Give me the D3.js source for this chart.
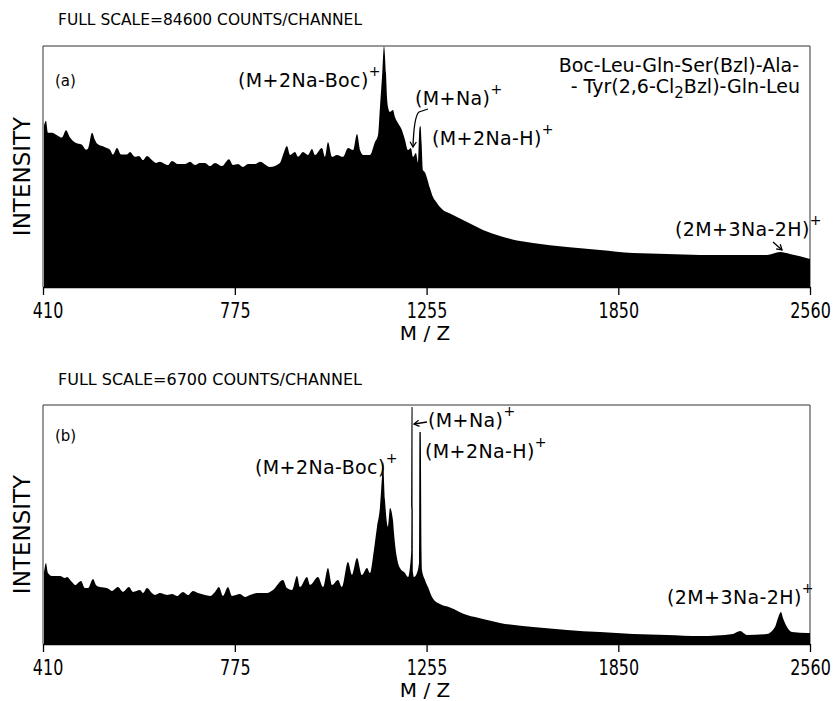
<!DOCTYPE html>
<html>
<head>
<meta charset="utf-8">
<script src="https://cdn.jsdelivr.net/npm/d3@7"></script>
<style>
  body { margin: 0; background: #fff; }
  svg { display: block; font-family: 'DejaVu Sans', sans-serif; }
</style>
</head>
<body>
<svg id="chart" width="836" height="701"></svg>
<script>
// m/z tick labels (the axis is linear in sqrt(m/z), like a TOF spectrum)
const mzTicks = [410, 775, 1255, 1850, 2560];

// panel (a): intensity in % of full scale (84600 counts/channel)
const mzA = [411.6, 414.8, 418.0, 424.5, 432.7, 441.0, 447.7, 454.4, 462.9, 474.8,
  481.8, 485.3, 492.3, 497.5, 501.1, 515.3, 524.4, 529.8, 537.1, 544.5,
  555.6, 561.2, 570.6, 578.2, 585.9, 593.5, 603.2, 611.0, 618.9, 624.8,
  634.7, 642.7, 654.8, 669.0, 679.3, 689.7, 700.1, 710.6, 721.2, 731.9,
  747.0, 762.2, 771.0, 782.0, 793.0, 804.2, 820.0, 831.4, 854.4, 877.6,
  884.7, 894.1, 901.3, 913.2, 920.4, 932.4, 944.5, 954.3, 961.6, 978.9,
  986.3, 993.8, 1003.8, 1016.4, 1031.6, 1044.3, 1057.2, 1067.5, 1075.3, 1083.1,
  1101.3, 1114.5, 1122.4, 1127.7, 1133.1, 1138.4, 1143.7, 1146.4, 1149.1, 1154.5,
  1162.5, 1167.9, 1176.1, 1186.9, 1195.2, 1203.4, 1211.6, 1217.1, 1225.4, 1231.0,
  1235.2, 1238.0, 1241.0, 1244.9, 1250.5, 1264.5, 1273.0, 1284.3, 1292.8, 1301.4,
  1321.5, 1370.8, 1418.1, 1469.2, 1521.2, 1571.0, 1679.4, 1788.2, 1900.3, 2019.4,
  2138.5, 2260.9, 2390.6, 2441.3, 2480.5, 2560];
const intA = [67, 69, 64, 64, 63, 62, 65, 62, 60, 59,
  57, 57.5, 64, 61, 59.5, 58, 57, 55, 57.7, 55,
  55, 56, 54, 54.4, 52.7, 54.4, 52.7, 51.5, 52, 51.5,
  50.6, 52.3, 51, 51, 52, 50.6, 51.5, 51.5, 50.2, 51.5,
  50.2, 53, 50.6, 51, 49.8, 51, 51, 52, 49.8, 51.5,
  54.8, 58.5, 54.8, 56, 54, 56, 54.8, 57.3, 54.8, 57.7,
  54, 60.2, 54, 54.8, 54, 57.7, 56.8, 63.5, 56.8, 54.8,
  54.8, 60.2, 63, 74.7, 87, 100, 88.8, 78.8, 74.7, 72.6,
  73.4, 70.5, 68, 65, 61, 56.8, 57.7, 54, 55.6, 51.5,
  66, 66.8, 60, 48.5, 47.5, 41, 37.3, 34.9, 33.2, 32,
  30.5, 27, 23.7, 21.2, 19.3, 18.3, 16.6, 15.4, 14.1, 13.7,
  13.3, 13.3, 13.3, 14.5, 13.7, 11.6];

// panel (b): intensity in % of full scale (6700 counts/channel)
const mzB = [411.6, 414.8, 418.0, 424.5, 437.7, 446.0, 449.3, 457.7, 462.9, 473.1,
  480.0, 485.3, 494.0, 499.3, 506.4, 518.9, 528.0, 538.9, 548.2, 559.4,
  566.9, 580.1, 585.9, 593.5, 603.2, 609.1, 618.9, 632.7, 642.7, 652.8,
  665.0, 675.2, 685.5, 696.0, 710.6, 721.2, 731.9, 740.5, 749.1, 760.0,
  768.7, 786.4, 797.6, 808.7, 824.6, 847.4, 861.3, 884.7, 894.1, 906.0,
  918.0, 925.2, 942.1, 949.4, 969.0, 981.4, 993.8, 1003.8, 1018.9, 1029.0,
  1044.3, 1054.6, 1067.5, 1080.4, 1093.5, 1101.3, 1109.2, 1119.8, 1127.7, 1133.1,
  1135.8, 1141.1, 1149.1, 1154.5, 1162.5, 1165.3, 1173.4, 1181.5, 1195.2, 1203.4,
  1208.9, 1212.5, 1213.3, 1216.0, 1217.0, 1219.9, 1228.2, 1233.8, 1235.0, 1238.6,
  1240.7, 1242.1, 1250.5, 1258.9, 1270.2, 1292.8, 1321.5, 1370.8, 1418.1, 1469.2,
  1571.0, 1679.4, 1788.2, 1900.3, 2019.4, 2138.5, 2260.9, 2287.4, 2313.9, 2390.6,
  2421.7, 2433.4, 2445.1, 2453.0, 2468.7, 2488.4, 2552.0, 2560];
const intB = [30, 33.9, 29.7, 28.5, 28.5, 27.6, 28, 25.9, 24.7, 26.4,
  23.4, 23.4, 27.2, 24.7, 23.8, 23.4, 22.2, 23.8, 21.8, 23.8,
  21.8, 22.6, 21.3, 23.4, 21.3, 20.5, 21.3, 20.5, 20.9, 20.1,
  21.8, 20.5, 22.2, 21.3, 20.5, 20.1, 21.8, 23.8, 20.1, 23.8,
  20.1, 20.9, 19.7, 20.5, 21.3, 21.3, 22.6, 26.8, 23.4, 22.6,
  28.5, 23.8, 28, 24.7, 28, 23.8, 31.8, 24.7, 26.8, 23.8,
  34.3, 28.9, 36, 28.9, 31.8, 29.7, 36.4, 49, 57.3, 70,
  76.2, 60.3, 49, 56.9, 51.9, 46.4, 36, 31.8, 29.7, 28,
  32.2, 40, 99.2, 99.2, 30, 28, 29.7, 34, 88.7, 88.7,
  40, 31, 26.8, 23.8, 19.7, 16.7, 15.3, 12.1, 10.5, 8.8,
  7.1, 5.9, 5.0, 4.2, 3.8, 3.3, 4.2, 5.4, 3.8, 4.2,
  7.1, 10.9, 13.4, 10.9, 7.1, 5.0, 4.6, 4.6];

const svg = d3.select('#chart');
const x = d3.scalePow().exponent(0.5).domain([410, 2560]).range([43, 810]);

function ion(g, px, py, text) {
  const t = g.append('text').attr('x', px).attr('y', py)
    .attr('font-size', 19).attr('letter-spacing', 0.4);
  t.append('tspan').text(text);
  t.append('tspan').attr('dy', -11).attr('font-size', 14).text('+');
}

function arrow(g, d, from, tip) {
  g.append('path').attr('d', d).attr('fill', 'none')
    .attr('stroke', '#000').attr('stroke-width', 1.3);
  const ang = Math.atan2(tip[1] - from[1], tip[0] - from[0]);
  const L = 6, a = 0.55;
  const p1 = [tip[0] - L * Math.cos(ang - a), tip[1] - L * Math.sin(ang - a)];
  const p2 = [tip[0] - L * Math.cos(ang + a), tip[1] - L * Math.sin(ang + a)];
  g.append('path').attr('d', `M${p1}L${tip}L${p2}`).attr('fill', 'none')
    .attr('stroke', '#000').attr('stroke-width', 1.3);
}

function panel(opts) {
  const g = svg.append('g');
  const y = d3.scaleLinear().domain([0, 100]).range([opts.base, opts.top]);
  const data = d3.zip(opts.mz, opts.val);

  g.append('text').attr('x', 58).attr('y', opts.titleY)
    .attr('font-size', 16).attr('textLength', 304).attr('lengthAdjust', 'spacingAndGlyphs')
    .text(opts.title);

  // frame
  g.append('path')
    .attr('d', `M43,${opts.base}V${opts.top}H810V${opts.base}`)
    .attr('fill', 'none').attr('stroke', '#333').attr('stroke-width', 1);

  const area = d3.area()
    .curve(d3.curveMonotoneX)
    .x(d => x(d[0]))
    .y0(opts.base)
    .y1(d => y(d[1]));
  g.append('path').datum(data).attr('d', area).attr('fill', '#000');

  const axis = d3.axisBottom(x).tickValues(mzTicks).tickSize(8).tickSizeOuter(0)
    .tickFormat(d3.format('d'));
  const ax = g.append('g').attr('transform', `translate(0,${opts.base})`).call(axis);
  ax.select('.domain').attr('stroke-width', 1.5);
  ax.selectAll('.tick line').attr('stroke-width', 1.3);
  // condensed digits: squeeze each label horizontally about its tick
  const sx = 0.76;
  ax.selectAll('.tick text')
    .attr('text-anchor', 'middle')
    .attr('x', (d, i) => (i === 0 ? 6 : 0))
    .attr('y', 31).attr('dy', 0)
    .attr('transform', `scale(${sx},1)`)
    .attr('font-family', "'DejaVu Sans', sans-serif")
    .attr('font-size', 21).attr('fill', '#000');

  g.append('text').attr('x', 425).attr('y', opts.base + 53)
    .attr('text-anchor', 'middle').attr('font-size', 20).text('M / Z');

  g.append('text')
    .attr('transform', `translate(30,${(opts.top + opts.base) / 2 + 10}) rotate(-90)`)
    .attr('text-anchor', 'middle').attr('font-size', 23).text('INTENSITY');

  g.append('text').attr('x', 55).attr('y', opts.tagY)
    .attr('font-size', 15).text(opts.tag);
  return g;
}

const gA = panel({ top: 46, base: 287, mz: mzA, val: intA,
  title: 'FULL SCALE=84600 COUNTS/CHANNEL', titleY: 25, tag: '(a)', tagY: 86 });
const gB = panel({ top: 405, base: 644, mz: mzB, val: intB,
  title: 'FULL SCALE=6700 COUNTS/CHANNEL', titleY: 385, tag: '(b)', tagY: 441 });

// annotations, panel (a)
ion(gA, 238, 87, '(M+2Na-Boc)');
ion(gA, 415, 105, '(M+Na)');
ion(gA, 432, 145, '(M+2Na-H)');
ion(gA, 675, 236, '(2M+3Na-2H)');
arrow(gA, 'M428,109 L419,112 Q414,116 413,147', [414, 120], [413, 147]);
arrow(gA, 'M773,242 L782,250', [773, 242], [782, 250]);

const pep = gA.append('g').attr('font-size', 19).attr('text-anchor', 'end');
pep.append('text').attr('x', 799).attr('y', 72).text('Boc-Leu-Gln-Ser(Bzl)-Ala-');
const l2 = pep.append('text').attr('x', 800).attr('y', 93);
l2.append('tspan').text('- Tyr(2,6-Cl');
l2.append('tspan').attr('dy', 5).attr('font-size', 15).text('2');
l2.append('tspan').attr('dy', -5).text('Bzl)-Gln-Leu');

// annotations, panel (b)
ion(gB, 255, 474, '(M+2Na-Boc)');
ion(gB, 428, 427, '(M+Na)');
ion(gB, 425, 458, '(M+2Na-H)');
ion(gB, 667, 604, '(2M+3Na-2H)');
arrow(gB, 'M427,422 L414,424', [427, 422], [414, 424]);
</script>
</body>
</html>
